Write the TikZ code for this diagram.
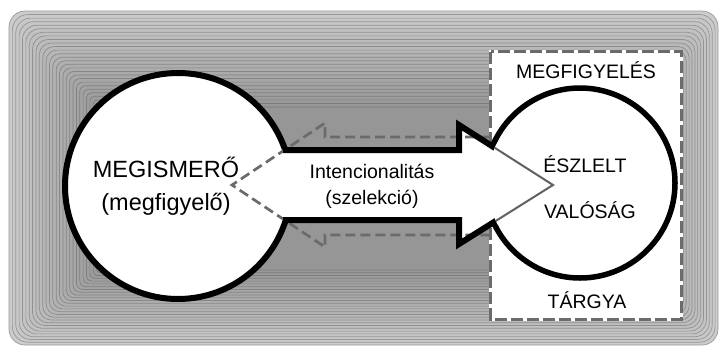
\documentclass[tikz,border=0pt]{standalone}
\usepackage{fontspec}
\setmainfont{Liberation Sans}
\begin{document}
\begin{tikzpicture}[x=1pt,y=-1pt,
  bigtxt/.style={font=\fontsize{23.5}{26}\selectfont, anchor=base, inner sep=0pt},
  smalltxt/.style={font=\fontsize{19.5}{22}\selectfont, anchor=base, inner sep=0pt},
  dashline/.style={draw=black!58, line width=2.7pt, dash pattern=on 10pt off 5pt},
]
\useasboundingbox (0,0) rectangle (727,354);
\fill[white] (0,0) rectangle (727,354);
% nested background rings
\foreach \i in {0,...,27} {
  \pgfmathsetmacro\t{\i/27}
  \pgfmathsetmacro\xa{9+\t*(100-9)}
  \pgfmathsetmacro\ya{11+\t*(107-11)}
  \pgfmathsetmacro\xb{718-\t*(718-640)}
  \pgfmathsetmacro\yb{345-\t*(345-270)}
  \pgfmathsetmacro\fc{20+\t*21}
  \pgfmathsetmacro\dc{40+\t*12}
  \pgfmathsetmacro\rc{16-\t*13}
  \filldraw[fill=black!\fc, draw=black!\dc, line width=0.7pt, rounded corners=\rc pt]
    (\xa,\ya) rectangle (\xb,\yb);
}
% observation box
\node[draw=none, fill=white, minimum width=190pt, minimum height=267pt, inner sep=0pt] (box) at (586,185.5) {};
\draw[white, line width=2.7pt] (box.north west) rectangle (box.south east);
\draw[dashline, dash pattern=on 12pt off 4pt] (box.north west) rectangle (box.south east);
% circles
\node[circle, draw=black, fill=white, line width=5.5pt, minimum size=190pt, inner sep=0pt] (right) at (580,183) {};
\node[circle, draw=black, fill=white, line width=6pt, minimum size=226pt, inner sep=0pt] (left) at (178,186) {};
% arrow fill
\coordinate (a1) at (283,150);
\coordinate (a2) at (459,150);
\coordinate (a3) at (459,125);
\coordinate (a4) at (553,185);
\coordinate (a5) at (459,244);
\coordinate (a6) at (459,220);
\coordinate (a7) at (283,220);
\fill[white] (262,150) -- (a2) -- (a3) -- (a4) -- (a5) -- (a6) -- (262,220) -- cycle;
% dashed backward arrow
\coordinate (d1) at (490,137);
\coordinate (d2) at (325,137);
\coordinate (d3) at (325,123);
\coordinate (d4) at (232,185);
\coordinate (d5) at (325,247);
\coordinate (d6) at (325,235);
\coordinate (d7) at (490,235);
\draw[dashline] (d1) -- (d2) -- (d3) -- (d4) -- (d5) -- (d6) -- (d7);
% arrow stroke
\draw[black, line width=6pt, line join=miter] (a1) -- (a2) -- (a3) -- (a4) -- (a5) -- (a6) -- (a7);
\begin{scope}
  \clip (right.center) circle[radius=92.3pt];
  \draw[white, line width=7.5pt] (a3) -- (a4) -- (a5);
  \draw[black!62, line width=2pt] (a3) -- (a4) -- (a5);
\end{scope}
% texts
\node[bigtxt] (t1) at (166,177) {MEGISMERŐ};
\node[bigtxt] (t2) at (166,210) {(megfigyelő)};
\node[smalltxt] (t3) at (372,178) {Intencionalitás};
\node[smalltxt] (t4) at (372,204) {(szelekció)};
\node[smalltxt] (t5) at (585,172) {ÉSZLELT};
\node[smalltxt] (t6) at (590,218) {VALÓSÁG};
\node[smalltxt] (t7) at (586,78) {MEGFIGYELÉS};
\node[smalltxt] (t8) at (587,308) {TÁRGYA};
\end{tikzpicture}
\end{document}
